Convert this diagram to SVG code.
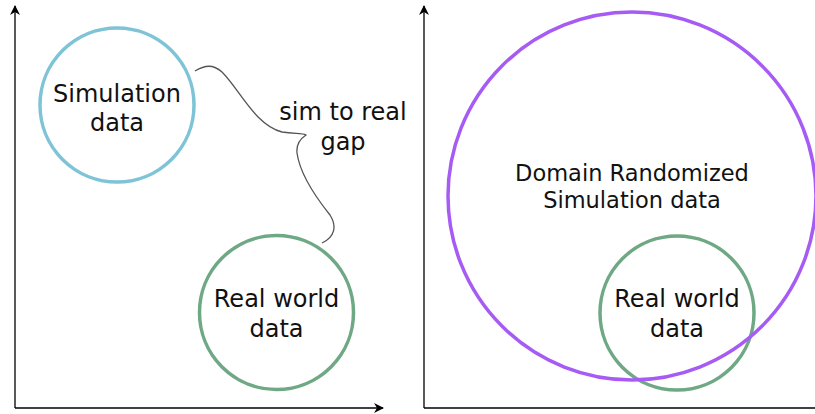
<svg xmlns="http://www.w3.org/2000/svg" width="815" height="414" viewBox="0 0 815 414">
<style>
.t{font-family:"DejaVu Sans",sans-serif;font-size:24px;fill:#111;text-anchor:middle}
.s{font-size:22.5px}
.ax{stroke:#000;stroke-width:1.3;fill:none}
.c{fill:none;stroke-width:3.5}
</style>
<defs>
<marker id="ah" viewBox="0 0 10 10" refX="9" refY="5" markerWidth="10" markerHeight="10" markerUnits="userSpaceOnUse" orient="auto">
<path d="M0,0 L10,5 L0,10 L3,5 Z" fill="#000"/>
</marker>
</defs>
<rect width="815" height="414" fill="#fff"/>
<g id="axes">
<line class="ax" x1="15" y1="408" x2="15" y2="6" marker-end="url(#ah)"/>
<line class="ax" x1="15" y1="408" x2="383" y2="408" marker-end="url(#ah)"/>
<line class="ax" x1="424" y1="408" x2="424" y2="6" marker-end="url(#ah)" stroke="#555"/>
<line class="ax" x1="424" y1="408" x2="815" y2="408" stroke="#555"/>
</g>
<g id="connectors">
<path d="M195,71 C205,65 213,64 222,72 C240,90 255,125 282,132 C295,134 302,133 306,135 C300,139 296,144 297,153 C300,175 318,200 330,215 C337,226 335,237 322,243" fill="none" stroke="#555" stroke-width="1.3"/>
</g>
<g id="sim">
<circle class="c" cx="117" cy="105" r="77" stroke="#7ec4d6"/>
<text class="t" x="117" y="102">Simulation</text>
<text class="t" x="117" y="131">data</text>
</g>
<g id="real-left">
<circle class="c" cx="276.5" cy="312.5" r="77" stroke="#6fa884"/>
<text class="t" x="276.5" y="307">Real world</text>
<text class="t" x="276.5" y="337">data</text>
</g>
<g id="gap-label">
<text class="t" x="343" y="120">sim to real</text>
<text class="t" x="343" y="150">gap</text>
</g>
<g id="real-right">
<circle class="c" cx="677" cy="313" r="77" stroke="#6fa884"/>
<text class="t" x="677" y="307">Real world</text>
<text class="t" x="677" y="337">data</text>
</g>
<g id="domain">
<circle class="c" cx="632" cy="196" r="184" stroke="#a65cf4"/>
<text class="t s" x="632" y="181">Domain Randomized</text>
<text class="t s" x="632" y="208">Simulation data</text>
</g>
</svg>
